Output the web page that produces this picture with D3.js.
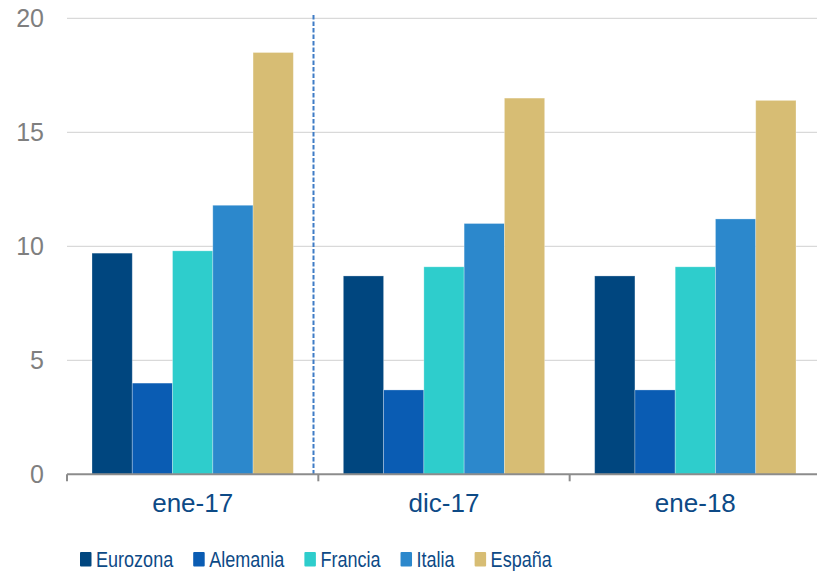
<!DOCTYPE html>
<html>
<head>
<meta charset="utf-8">
<script src="https://cdn.jsdelivr.net/npm/d3@7"></script>
<style>
  body { margin: 0; background: #fff; }
  text { font-family: "Liberation Sans", Arial, sans-serif; }
</style>
</head>
<body>
<svg id="chart" width="817" height="571"></svg>
<script>
// categories and series
const periods = ["ene-17", "dic-17", "ene-18"];
const countries = ["Eurozona", "Alemania", "Francia", "Italia", "España"];
const eurozona = [9.7, 8.7, 8.7];
const alemania = [4.0, 3.7, 3.7];
const francia = [9.8, 9.1, 9.1];
const italia = [11.8, 11.0, 11.2];
const espana = [18.5, 16.5, 16.4];
const yTicks = [0, 5, 10, 15, 20];

const colors = ["#00467f", "#0a5cb3", "#2ecdcc", "#2c88cc", "#d7bd74"];
const seriesValues = [eurozona, alemania, francia, italia, espana];

// table built from the arrays
const data = periods.map((p, i) => ({
    period: p,
    values: countries.map((c, j) => ({ country: c, value: seriesValues[j][i] }))
}));

const svg = d3.select("#chart");

// scales
const x0 = d3.scaleBand().domain(periods).range([67, 821]);
const x1 = d3.scaleBand().domain(countries).range([25, x0.bandwidth() - 25]);
const y = d3.scaleLinear().domain([0, 20]).range([474.3, 18.3]);
const color = d3.scaleOrdinal().domain(countries).range(colors);

// gridlines
svg.append("g")
    .selectAll("line")
    .data(yTicks.filter(d => d > 0))
    .join("line")
    .attr("x1", 67)
    .attr("x2", 817)
    .attr("y1", d => y(d))
    .attr("y2", d => y(d))
    .attr("stroke", "#d9d9d9")
    .attr("stroke-width", 1.3);

// y axis labels
const yaxis = d3.axisLeft(y).tickValues(yTicks).tickSize(0).tickPadding(0);
svg.append("g")
    .attr("transform", "translate(44,0)")
    .call(yaxis)
    .call(g => g.select(".domain").remove())
    .selectAll("text")
    .attr("font-size", "25px")
    .attr("fill", "#7f7f7f")
    .attr("font-family", "Liberation Sans, Arial, sans-serif");

// bars
const groups = svg.append("g")
    .selectAll("g")
    .data(data)
    .join("g")
    .attr("transform", d => `translate(${x0(d.period)},0)`);

groups.selectAll("rect")
    .data(d => d.values)
    .join("rect")
    .attr("x", d => x1(d.country))
    .attr("width", x1.bandwidth())
    .attr("y", d => y(d.value))
    .attr("height", d => y(0) - y(d.value))
    .attr("fill", d => color(d.country))
    .attr("stroke", "#ffffff")
    .attr("stroke-opacity", 0.35)
    .attr("stroke-width", 0.8);

// separator between ene-17 and dic-17
svg.append("line")
    .attr("x1", 313.5)
    .attr("x2", 313.5)
    .attr("y1", 15)
    .attr("y2", 474)
    .attr("stroke", "#3f7cc6")
    .attr("stroke-width", 2)
    .attr("stroke-dasharray", "4.5,2");

// x axis
const xaxis = d3.axisBottom(x0).tickSize(0).tickPadding(0);
const gx = svg.append("g")
    .attr("transform", `translate(0,${y(0)})`)
    .call(xaxis);
gx.select(".domain").remove();
gx.selectAll("text")
    .attr("dy", 0)
    .attr("y", 38)
    .attr("font-size", "26px")
    .attr("fill", "#0d4a86")
    .attr("font-family", "Liberation Sans, Arial, sans-serif");
gx.append("line")
    .attr("x1", 67)
    .attr("x2", 817)
    .attr("stroke", "#8c8c8c")
    .attr("stroke-width", 2);
gx.selectAll(".sep")
    .data(periods)
    .join("line")
    .attr("class", "sep")
    .attr("x1", d => x0(d))
    .attr("x2", d => x0(d))
    .attr("y1", 0)
    .attr("y2", 7)
    .attr("stroke", "#8c8c8c")
    .attr("stroke-width", 2);

// legend (text squeezed horizontally like a narrow face)
const squeeze = 0.82;
const legend = svg.append("g").attr("transform", "translate(80,0)");
let lx = 0;
countries.forEach((c, i) => {
    const item = legend.append("g").attr("transform", `translate(${lx},0)`);
    item.append("rect")
        .attr("x", 0)
        .attr("y", 552)
        .attr("width", 11.5)
        .attr("height", 14.5)
        .attr("rx", 1)
        .attr("fill", color(c));
    const t = item.append("text")
        .attr("transform", `translate(16,566.5) scale(${squeeze},1)`)
        .attr("font-size", "22px")
        .attr("fill", "#0d4a86")
        .text(c);
    lx += 16 + t.node().getComputedTextLength() * squeeze + 20;
});
</script>
</body>
</html>
